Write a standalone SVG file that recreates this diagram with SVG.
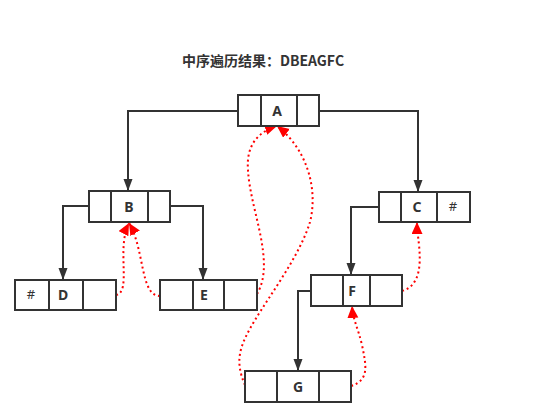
<svg xmlns="http://www.w3.org/2000/svg" width="544" height="420" viewBox="0 0 544 420">
<style>
.box{fill:#fff;stroke:#333;stroke-width:2}
.div{stroke:#333;stroke-width:2}
.lbl{font-family:"Noto Sans","Liberation Sans",sans-serif;font-size:14px;font-weight:bold;fill:#333;text-anchor:middle}
.hash{font-family:"Noto Sans","Liberation Sans",sans-serif;font-size:13px;fill:#333;text-anchor:middle}
.edge{fill:none;stroke:#333;stroke-width:2}
.trav{fill:none;stroke:#f00;stroke-width:2;stroke-dasharray:2 3}
</style>
<defs>
<marker id="ab" markerUnits="userSpaceOnUse" markerWidth="14" markerHeight="14" refX="12" refY="4.5" orient="auto"><path d="M0,0 L12,4.5 L0,9 z" fill="#333"/></marker>
<marker id="ar" markerUnits="userSpaceOnUse" markerWidth="14" markerHeight="14" refX="12" refY="5.5" orient="auto"><path d="M0,0 L12,5.5 L0,11 z" fill="#f00"/></marker>
</defs>
<rect width="544" height="420" fill="#fff"/>
<text x="263" y="66" font-family="'Noto Sans CJK SC','Noto Sans',sans-serif" font-size="14" font-weight="bold" fill="#333" text-anchor="middle">中序遍历结果：DBEAGFC</text>
<g id="connectors">
<path class="edge" d="M238,111 H128 V191" marker-end="url(#ab)"/>
<path class="edge" d="M319,111 H418 V192" marker-end="url(#ab)"/>
<path class="edge" d="M89,206 H63 V280" marker-end="url(#ab)"/>
<path class="edge" d="M170,206 H203 V280" marker-end="url(#ab)"/>
<path class="edge" d="M379,207 H351 V275" marker-end="url(#ab)"/>
<path class="edge" d="M311,291 H298 V371" marker-end="url(#ab)"/>
<path class="trav" d="M116,295 C132,292 116,248 129,223" marker-end="url(#ar)"/>
<path class="trav" d="M160,296 C140,296 145,250 129,223" marker-end="url(#ar)"/>
<path class="trav" d="M257,294 C276,262 250,210 248,170 C246,145 258,132 277,126" marker-end="url(#ar)"/>
<path class="trav" d="M245,385 C234,360 240,345 255,320 C270,295 300,255 310,222 C318,190 308,150 277,126" marker-end="url(#ar)"/>
<path class="trav" d="M351,386 C370,380 366,365 362,345 C358,328 353,320 352,306" marker-end="url(#ar)"/>
<path class="trav" d="M402,291 C420,286 421,265 419,245 C418,235 417,230 417,222" marker-end="url(#ar)"/>
</g>
<g id="A"><rect class="box" x="238" y="95" width="81" height="31"/><line class="div" x1="261" y1="95" x2="261" y2="126"/><line class="div" x1="297" y1="95" x2="297" y2="126"/><text class="lbl" x="277" y="116">A</text></g>
<g id="B"><rect class="box" x="89" y="191" width="81" height="31"/><line class="div" x1="111" y1="191" x2="111" y2="222"/><line class="div" x1="148" y1="191" x2="148" y2="222"/><text class="lbl" x="129" y="212">B</text></g>
<g id="C"><rect class="box" x="379" y="192" width="91" height="30"/><line class="div" x1="401" y1="192" x2="401" y2="222"/><line class="div" x1="437" y1="192" x2="437" y2="222"/><text class="lbl" x="417" y="212">C</text><text class="hash" x="453" y="211">#</text></g>
<g id="D"><rect class="box" x="15" y="280" width="101" height="30"/><line class="div" x1="49" y1="280" x2="49" y2="310"/><line class="div" x1="83" y1="280" x2="83" y2="310"/><text class="lbl" x="63" y="300">D</text><text class="hash" x="31" y="299">#</text></g>
<g id="E"><rect class="box" x="160" y="280" width="97" height="30"/><line class="div" x1="193" y1="280" x2="193" y2="310"/><line class="div" x1="224" y1="280" x2="224" y2="310"/><text class="lbl" x="204" y="300">E</text></g>
<g id="F"><rect class="box" x="311" y="275" width="91" height="31"/><line class="div" x1="343" y1="275" x2="343" y2="306"/><line class="div" x1="370" y1="275" x2="370" y2="306"/><text class="lbl" x="352" y="296">F</text></g>
<g id="G"><rect class="box" x="245" y="371" width="106" height="31"/><line class="div" x1="277" y1="371" x2="277" y2="402"/><line class="div" x1="319" y1="371" x2="319" y2="402"/><text class="lbl" x="298" y="392">G</text></g>
</svg>
